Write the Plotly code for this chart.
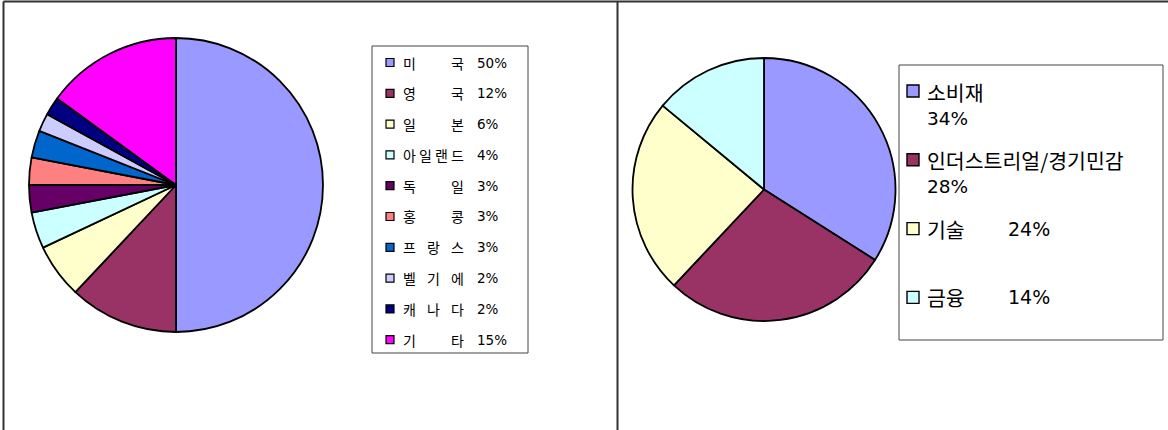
import plotly.graph_objects as go

# ---------------- data ----------------
countries = ["미국", "영국", "일본", "아일랜드", "독일", "홍콩", "프랑스", "벨기에", "캐나다", "기타"]
country_values = [50, 12, 6, 4, 3, 3, 3, 2, 2, 15]
country_colors = ["#9999FF", "#993366", "#FFFFCC", "#CCFFFF", "#660066",
                  "#FF8080", "#0066CC", "#CCCCFF", "#000080", "#FF00FF"]

sectors = ["소비재", "인더스트리얼/경기민감", "기술", "금융"]
sector_values = [34, 28, 24, 14]
sector_colors = ["#9999FF", "#993366", "#FFFFCC", "#CCFFFF"]

# ---------------- geometry helpers ----------------
W, H = 1168, 430
def fx(x):
    return x / W
def fy(y):
    return 1 - y / H

FONT = "Noto Sans CJK KR"
NUMFONT = "DejaVu Sans"
LINE = dict(color="black", width=1.8)

fig = go.Figure()

# left pie: centre (176,185) r=147
cx, cy, r = 176, 185, 147
fig.add_trace(go.Pie(
    labels=countries, values=country_values, sort=False, direction="clockwise",
    rotation=0, textinfo="none", hoverinfo="skip",
    marker=dict(colors=country_colors, line=LINE),
    domain=dict(x=[fx(cx - r), fx(cx + r)], y=[fy(cy + r), fy(cy - r)]),
    showlegend=False,
))

# right pie: centre (764,189.5) r=131.5
cx2, cy2, r2 = 764, 189.5, 131.5
fig.add_trace(go.Pie(
    labels=sectors, values=sector_values, sort=False, direction="clockwise",
    rotation=0, textinfo="none", hoverinfo="skip",
    marker=dict(colors=sector_colors, line=LINE),
    domain=dict(x=[fx(cx2 - r2), fx(cx2 + r2)], y=[fy(cy2 + r2), fy(cy2 - r2)]),
    showlegend=False,
))

shapes = []
annotations = []

# panel borders
border = dict(color="#333333", width=2)
shapes.append(dict(type="line", xref="paper", yref="paper", x0=fx(3.5), x1=1, y0=fy(1.5), y1=fy(1.5), line=border))
shapes.append(dict(type="line", xref="paper", yref="paper", x0=fx(3.5), x1=fx(3.5), y0=fy(1.5), y1=0, line=border))
shapes.append(dict(type="line", xref="paper", yref="paper", x0=fx(617.5), x1=fx(617.5), y0=fy(1.5), y1=0, line=border))

# left legend box
shapes.append(dict(type="rect", xref="paper", yref="paper", x0=fx(372), x1=fx(528), y0=fy(353), y1=fy(46),
                   line=dict(color="#444444", width=1), fillcolor="rgba(0,0,0,0)"))
row0, step = 62.5, 30.8
for i, (name, val, col) in enumerate(zip(countries, country_values, country_colors)):
    y = row0 + i * step
    shapes.append(dict(type="rect", xref="paper", yref="paper", x0=fx(386), x1=fx(394), y0=fy(y + 4), y1=fy(y - 4),
                       line=dict(color="black", width=1.2), fillcolor=col))
    n = len(name)
    first, last = 409, 457
    for j, ch in enumerate(name):
        xc = first + (last - first) * j / (n - 1) if n > 1 else first
        annotations.append(dict(xref="paper", yref="paper", x=fx(xc), y=fy(y), text=ch, showarrow=False,
                                xanchor="center", yanchor="middle", font=dict(family=FONT, size=14, color="black")))
    annotations.append(dict(xref="paper", yref="paper", x=fx(475), y=fy(y), text=f"{val}%", showarrow=False,
                            xanchor="left", yanchor="middle", font=dict(family=NUMFONT, size=13.5, color="black")))

# right legend box
shapes.append(dict(type="rect", xref="paper", yref="paper", x0=fx(899), x1=fx(1163), y0=fy(340), y1=fy(65),
                   line=dict(color="#444444", width=1), fillcolor="rgba(0,0,0,0)"))
rrow0, rstep = 91, 68.8
for i, (name, val, col) in enumerate(zip(sectors, sector_values, sector_colors)):
    y = rrow0 + i * rstep
    shapes.append(dict(type="rect", xref="paper", yref="paper", x0=fx(907), x1=fx(919), y0=fy(y + 6), y1=fy(y - 6),
                       line=dict(color="black", width=1.4), fillcolor=col))
    if len(name) > 2:
        txt = (f"<span style='font-family:{FONT};font-size:20.5px'>{name}</span><br>"
               f"<span style='font-family:{NUMFONT}'>{val}%</span>")
        annotations.append(dict(xref="paper", yref="paper", x=fx(926), y=fy(y - 15.5), text=txt, showarrow=False,
                                xanchor="left", yanchor="top", align="left", borderpad=0,
                                font=dict(family=FONT, size=18.5, color="black")))
    else:
        annotations.append(dict(xref="paper", yref="paper", x=fx(925), y=fy(y), text=name, showarrow=False,
                                xanchor="left", yanchor="middle",
                                font=dict(family=FONT, size=20.5, color="black")))
        annotations.append(dict(xref="paper", yref="paper", x=fx(1006), y=fy(y), text=f"{val}%", showarrow=False,
                                xanchor="left", yanchor="middle",
                                font=dict(family=NUMFONT, size=19, color="black")))

fig.update_layout(
    width=W, height=H, margin=dict(l=0, r=0, t=0, b=0),
    paper_bgcolor="white", plot_bgcolor="white",
    shapes=shapes, annotations=annotations, showlegend=False,
)

fig.write_html("out.html", config=dict(displayModeBar=False),
               post_script="document.body.style.margin='0';document.body.style.overflow='hidden';")
